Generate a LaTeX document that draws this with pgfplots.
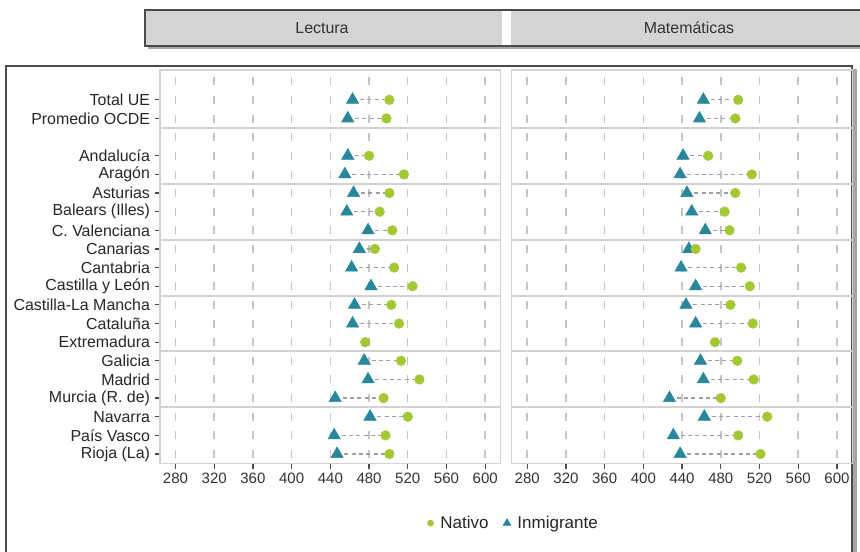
\documentclass[border=0pt]{standalone}
\usepackage{pgfplots}
\pgfplotsset{compat=1.18}
\usepackage{pgfplotstable}
\usepackage{fontspec}
\setmainfont{Liberation Sans}
\definecolor{natcol}{RGB}{163,200,52}
\definecolor{inmcol}{RGB}{40,135,155}
\definecolor{hdrfill}{RGB}{212,212,212}
\definecolor{framecol}{RGB}{75,75,75}

\pgfplotstableread{
y nat inm
19 501 463
18 498 458
16 480 458
15 516 455
14 501 464
13 491 457
12 504 479
11 486 470
10 506 462
9 525 482
8 503 465
7 511 463
6 476 nan
5 513 475
4 532 479
3 495 445
2 520 481
1 497 444
0 501 447
}\lect

\pgfplotstableread{
y nat inm
19 498 462
18 495 458
16 467 441
15 512 438
14 495 445
13 484 450
12 489 464
11 454 447
10 501 439
9 510 454
8 490 444
7 513 454
6 474 nan
5 497 459
4 514 462
3 480 427
2 528 463
1 498 431
0 521 438
}\mate

\pgfplotsset{
  panel/.style={
    scale only axis, width=255.5bp, height=295bp,
    xmin=264, xmax=616, ymin=-0.5, ymax=20.6,
    xtick={280,320,...,600},
    xmajorgrids,
    x grid style={gray!45, line width=1.1bp, dash pattern=on 6bp off 7.97bp, dash phase=9.97bp},
    axis line style={gray!35, line width=1bp},
    xtick pos=bottom, ytick pos=left, tick align=outside,
    major tick length=4bp,
    tick style={black!70, line width=0.9bp},
    tick label style={font=\fontsize{11.3}{12}\selectfont, text=black!80},
    /pgf/number format/assume math mode=true,
    /pgf/number format/1000 sep={},
    extra y ticks={2.5,5.5,8.5,11.5,14.5,17.5},
    extra y tick labels={},
    extra y tick style={grid=major, major grid style={solid, gray!35, line width=1.5bp}, major tick length=0pt},
    unbounded coords=discard,
  },
  conn/.style={forget plot, only marks, mark=none,
    error bars/.cd, x dir=plus, x explicit, error mark=none,
    error bar style={gray!75, line width=0.9bp, dash pattern=on 3bp off 2.5bp}},
  tri/.style={forget plot, only marks, mark=triangle*, mark size=5.3bp, color=inmcol, mark options={draw=inmcol, fill=inmcol}},
  dot/.style={forget plot, only marks, mark=*, mark size=3.6bp, color=natcol, mark options={draw=natcol, fill=natcol}},
}

\begin{document}
\begin{tikzpicture}
\path[use as bounding box] (0,0) rectangle (645bp,414bp);
\clip (0,0) rectangle (645bp,414bp);
\begin{scope}[x=0.75bp, y=0.75bp]
% outer frame
\fill[black!35] (9,-10) rectangle (857,483);
\draw[framecol, line width=1.6bp, fill=white] (6,-10) rectangle (852,486);
% header strip
\fill[black!35] (148,503) rectangle (870,539);
\draw[framecol, line width=1.4bp, fill=hdrfill] (145,506) rectangle (875,542);
\fill[white] (502,507) rectangle (511,541);
\node[font=\fontsize{12}{14}\selectfont, text=black!80] at (322,524) {Lectura};
\node[font=\fontsize{12}{14}\selectfont, text=black!80] at (689,524) {Matemáticas};
\end{scope}

\begin{axis}[panel, at={(120bp,66.5bp)}, anchor=south west,
  ytick={0,1,2,3,4,5,6,7,8,9,10,11,12,13,14,15,16,18,19},
  yticklabels={Rioja (La),País Vasco,Navarra,Murcia (R. de),Madrid,Galicia,Extremadura,Cataluña,Castilla-La Mancha,Castilla y León,Cantabria,Canarias,C. Valenciana,Balears (Illes),Asturias,Aragón,Andalucía,Promedio OCDE,Total UE},
  yticklabel style={font=\fontsize{12}{13}\selectfont, text=black!85},
  legend style={at={(1.045,-0.152)}, anchor=center, draw=none, fill=none,
    legend columns=2, font=\fontsize{12.8}{14}\selectfont, text=black!85,
    nodes={inner xsep=5bp},
    /tikz/every even column/.append style={column sep=6bp}},
  legend cell align=left,
]
\addplot [conn] table [x=inm, y=y, x error expr=\thisrow{nat}-\thisrow{inm}] {\lect};
\addplot [tri] table [x=inm, y=y] {\lect};
\addplot [dot] table [x=nat, y=y] {\lect};
\addlegendimage{only marks, mark=*, mark size=2.3bp, color=natcol}
\addlegendentry{Nativo}
\addlegendimage{only marks, mark=triangle*, mark size=3.3bp, color=inmcol}
\addlegendentry{Inmigrante}
\end{axis}

\begin{axis}[panel, at={(383.8bp,66.5bp)}, anchor=south west,
  ytick=\empty,
]
\addplot [conn] table [x=inm, y=y, x error expr=\thisrow{nat}-\thisrow{inm}] {\mate};
\addplot [tri] table [x=inm, y=y] {\mate};
\addplot [dot] table [x=nat, y=y] {\mate};
\end{axis}
\end{tikzpicture}
\end{document}
